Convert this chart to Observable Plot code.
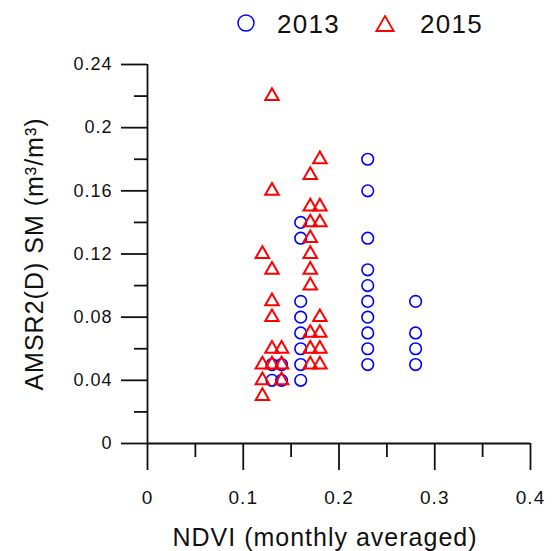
<!DOCTYPE html>
<html>
<head>
<meta charset="utf-8">
<script src="https://cdn.jsdelivr.net/npm/d3@7"></script>
<script src="https://cdn.jsdelivr.net/npm/@observablehq/plot@0.6"></script>
<style>
  html, body { margin: 0; padding: 0; background: #fff; }
  #wrap { width: 552px; height: 551px; position: relative; font-family: "Liberation Sans", Arial, sans-serif; }
  #legend { height: 44px; position: relative; }
  #legend svg { position: absolute; left: 0; top: 0; }
</style>
</head>
<body>
<div id="wrap">
  <div id="legend"></div>
  <div id="chart"></div>
</div>
<script>
// ---- data ----
const seriesNames = ["2013", "2015"];
const ndvi2013 = [0.13, 0.13, 0.14, 0.14,
  0.16, 0.16, 0.16, 0.16, 0.16, 0.16, 0.16, 0.16,
  0.23, 0.23, 0.23, 0.23, 0.23, 0.23, 0.23, 0.23, 0.23, 0.23,
  0.28, 0.28, 0.28, 0.28];
const sm2013 = [0.04, 0.05, 0.04, 0.05,
  0.04, 0.05, 0.06, 0.07, 0.08, 0.09, 0.13, 0.14,
  0.05, 0.06, 0.07, 0.08, 0.09, 0.10, 0.11, 0.13, 0.16, 0.18,
  0.05, 0.06, 0.07, 0.09];
const ndvi2015 = [0.12, 0.12, 0.12, 0.12,
  0.13, 0.13, 0.13, 0.13, 0.13, 0.13, 0.13,
  0.14, 0.14, 0.14,
  0.17, 0.17, 0.17, 0.17, 0.17, 0.17, 0.17, 0.17, 0.17, 0.17,
  0.18, 0.18, 0.18, 0.18, 0.18, 0.18, 0.18];
const sm2015 = [0.03, 0.04, 0.05, 0.12,
  0.05, 0.06, 0.08, 0.09, 0.11, 0.16, 0.22,
  0.04, 0.05, 0.06,
  0.05, 0.06, 0.07, 0.10, 0.11, 0.12, 0.13, 0.14, 0.15, 0.17,
  0.05, 0.06, 0.07, 0.08, 0.14, 0.15, 0.18];
const xMajorTicks = [0, 0.1, 0.2, 0.3, 0.4];
const xTickLabels = ["0", "0.1", "0.2", "0.3", "0.4"];
const xMinorTicks = [0.05, 0.15, 0.25, 0.35];
const yMajorTicks = [0, 0.04, 0.08, 0.12, 0.16, 0.2, 0.24];
const yTickLabels = ["0", "0.04", "0.08", "0.12", "0.16", "0.2", "0.24"];
const yMinorTicks = [0.02, 0.06, 0.1, 0.14, 0.18, 0.22];
const xTitle = "NDVI (monthly averaged)";
const yTitle = "AMSR2(D) SM (m\u00B3/m\u00B3)";

const data2013 = ndvi2013.map((x, i) => ({x, y: sm2013[i]}));
const data2015 = ndvi2015.map((x, i) => ({x, y: sm2015[i]}));

const blue = "#0000ff";
const red = "#ff0000";
const FONT = "'Liberation Sans', Arial, sans-serif";

// ---- legend ----
const lg = d3.select("#legend").append("svg").attr("width", 552).attr("height", 44);
const legendItems = [
  {name: seriesNames[0], sym: d3.symbolCircle, color: blue, cx: 246, tx: 277, sw: 1.5, size: Math.PI * 64},
  {name: seriesNames[1], sym: d3.symbolTriangle, color: red, cx: 385, tx: 420, sw: 1.8, size: 130}
];
legendItems.forEach(it => {
  lg.append("path")
    .attr("d", d3.symbol(it.sym, it.size)())
    .attr("transform", `translate(${it.cx},${it.sym === d3.symbolTriangle ? 26 : 23})`)
    .attr("fill", "none").attr("stroke", it.color).attr("stroke-width", it.sw);
  lg.append("text").attr("x", it.tx).attr("y", 33)
    .attr("font-family", FONT).attr("font-size", 26).attr("letter-spacing", "1.3px")
    .attr("fill", "#111").text(it.name);
});

// ---- chart ----
const chart = Plot.plot({
  width: 552,
  height: 507,
  marginTop: 20,
  marginBottom: 108,
  marginLeft: 147,
  marginRight: 22,
  style: {fontFamily: FONT, color: "#111", background: "#fff", overflow: "visible", letterSpacing: "1px"},
  x: {domain: [0, 0.4]},
  y: {domain: [0, 0.24]},
  marks: [
    Plot.axisY(yMajorTicks, {tickSize: 26, tickPadding: 9, fontSize: 18, strokeWidth: 1.8, stroke: "#111",
      tickFormat: (d, i) => yTickLabels[i], label: null}),
    Plot.axisY(yMinorTicks, {tickSize: 13, strokeWidth: 1.8, stroke: "#111", tickFormat: null, text: null, label: null}),
    Plot.axisX(xMajorTicks, {tickSize: 27, tickPadding: 20, fontSize: 19, strokeWidth: 1.8, stroke: "#111",
      tickFormat: (d, i) => xTickLabels[i], label: null}),
    Plot.axisX(xMinorTicks, {tickSize: 14, strokeWidth: 1.8, stroke: "#111", tickFormat: null, text: null, label: null}),
    Plot.ruleX([0], {stroke: "#111", strokeWidth: 1.8}),
    Plot.ruleY([0], {stroke: "#111", strokeWidth: 1.8}),
    Plot.dot(data2013, {x: "x", y: "y", r: 5.8, stroke: blue, strokeWidth: 1.6, fill: "none"}),
    Plot.dot(data2015, {x: "x", y: "y", symbol: "triangle", r: 5, stroke: red, strokeWidth: 2, fill: "none"}),
    Plot.text([xTitle], {frameAnchor: "bottom", dy: 94, dx: -14, fontSize: 25, lineAnchor: "middle",
      textAnchor: "middle", fill: "#111"}),
    Plot.text([yTitle], {frameAnchor: "left", dx: -113, rotate: -90, fontSize: 25, lineAnchor: "middle",
      textAnchor: "middle", fill: "#111"})
  ]
});
document.getElementById("chart").appendChild(chart);
</script>
</body>
</html>
